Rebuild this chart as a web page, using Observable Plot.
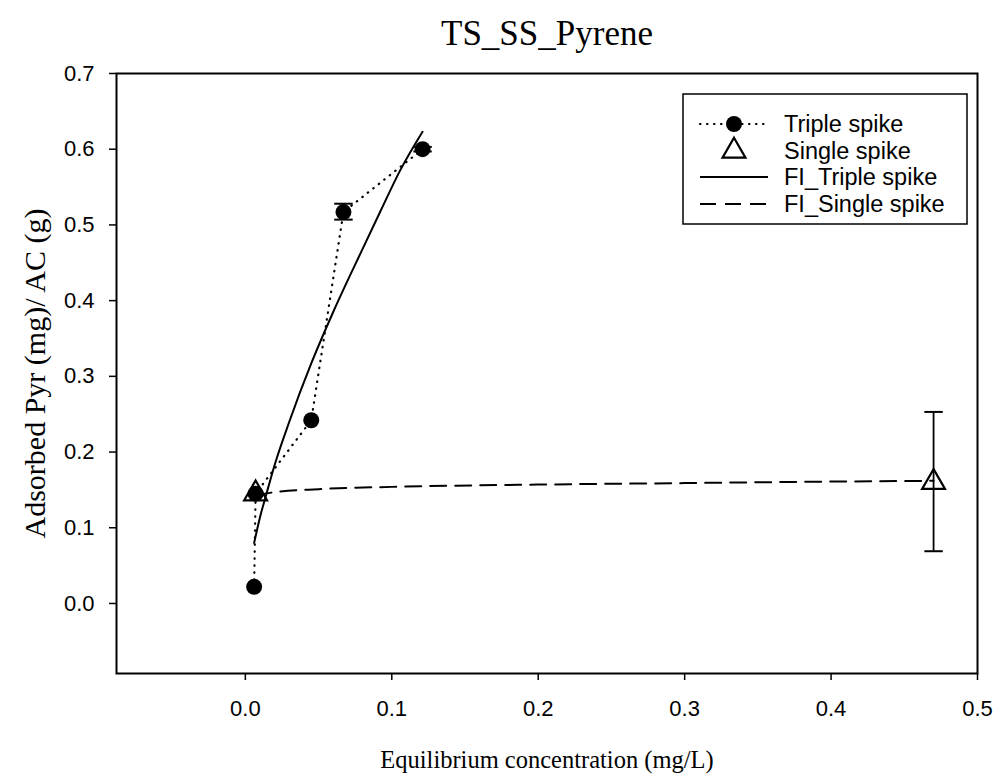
<!DOCTYPE html>
<html>
<head>
<meta charset="utf-8">
<script src="https://cdn.jsdelivr.net/npm/d3@7"></script>
<script src="https://cdn.jsdelivr.net/npm/@observablehq/plot@0.6"></script>
<style>
  html, body { margin: 0; padding: 0; background: white; }
  #chart { width: 995px; height: 776px; }
</style>
</head>
<body>
<div id="chart"></div>
<script>
// ---- Data ----
const titleText = "TS_SS_Pyrene";
const xLabel = "Equilibrium concentration (mg/L)";
const yLabel = "Adsorbed Pyr (mg)/ AC (g)";

const xTicks = [0.0, 0.1, 0.2, 0.3, 0.4, 0.5];
const yTicks = [0.0, 0.1, 0.2, 0.3, 0.4, 0.5, 0.6, 0.7];

// Triple spike (filled circles, dotted connecting line)
const tripleC = [0.006, 0.007, 0.045, 0.067, 0.121];
const tripleQ = [0.022, 0.145, 0.242, 0.517, 0.600];
const tripleLo = [0.022, 0.145, 0.242, 0.507, 0.597];
const tripleHi = [0.022, 0.145, 0.242, 0.528, 0.603];

// Single spike (open triangles)
const singleC = [0.007, 0.470];
const singleQ = [0.145, 0.160];
const singleLo = [0.145, 0.069];
const singleHi = [0.145, 0.253];

// Fitted curve, triple spike (solid)
const fitTripleC = [0.006, 0.010, 0.014, 0.020, 0.030, 0.045, 0.060, 0.080, 0.092, 0.106, 0.121];
const fitTripleQ = [0.080, 0.114, 0.142, 0.183, 0.240, 0.317, 0.385, 0.468, 0.517, 0.573, 0.623];

// Fitted curve, single spike (dashed)
const fitSingleC = [0.007, 0.020, 0.050, 0.100, 0.200, 0.300, 0.400, 0.470];
const fitSingleQ = [0.143, 0.147, 0.151, 0.154, 0.157, 0.159, 0.161, 0.162];

const legendLabels = ["Triple spike", "Single spike", "FI_Triple spike", "FI_Single spike"];

// ---- Build tables ----
const triple = tripleC.map((c, i) => ({c, q: tripleQ[i], lo: tripleLo[i], hi: tripleHi[i]}));
const single = singleC.map((c, i) => ({c, q: singleQ[i], lo: singleLo[i], hi: singleHi[i]}));
const fitT = fitTripleC.map((c, i) => ({c, q: fitTripleQ[i]}));
const fitS = fitSingleC.map((c, i) => ({c, q: fitSingleQ[i]}));
const errs = triple.concat(single).filter(d => d.hi > d.lo);

const capSymbol = {
  draw(ctx, size) {
    const w = Math.sqrt(size);
    ctx.moveTo(-w, 0);
    ctx.lineTo(w, 0);
  }
};

const sans = "'Liberation Sans', Arial, Helvetica, sans-serif";
const serif = "'Liberation Serif', 'Times New Roman', serif";

const chart = Plot.plot({
  width: 995,
  height: 776,
  marginLeft: 116,
  marginRight: 18,
  marginTop: 73,
  marginBottom: 103,
  style: {fontFamily: sans, fontSize: "22px", color: "black", background: "white"},
  x: {domain: [-0.088, 0.5]},
  y: {domain: [-0.0925, 0.7]},
  marks: [
    Plot.axisX({ticks: xTicks, tickFormat: d3.format(".1f"), tickSize: 7, tickPadding: 20, label: null, strokeWidth: 1.5, fontSize: 22}),
    Plot.axisY({ticks: yTicks, tickFormat: d3.format(".1f"), tickSize: 7, tickPadding: 15, label: null, strokeWidth: 1.5, fontSize: 22}),
    Plot.frame({stroke: "black", strokeWidth: 2}),
    Plot.line(fitT, {x: "c", y: "q", stroke: "black", strokeWidth: 2, curve: "monotone-x"}),
    Plot.line(fitS, {x: "c", y: "q", stroke: "black", strokeWidth: 2, strokeDasharray: "16,9", curve: "monotone-x"}),
    Plot.line(triple, {x: "c", y: "q", stroke: "black", strokeWidth: 2.2, strokeDasharray: "0.5,6.5", strokeLinecap: "round"}),
    Plot.ruleX(errs, {x: "c", y1: "lo", y2: "hi", stroke: "black", strokeWidth: 1.8}),
    Plot.dot(errs, {x: "c", y: "hi", symbol: capSymbol, r: 5.2, stroke: "black", strokeWidth: 2}),
    Plot.dot(errs, {x: "c", y: "lo", symbol: capSymbol, r: 5.2, stroke: "black", strokeWidth: 2}),
    Plot.dot(triple, {x: "c", y: "q", r: 8, fill: "black", stroke: "none"}),
    Plot.dot(single, {x: "c", y: "q", symbol: "triangle", r: 8.5, stroke: "black", strokeWidth: 2.2, fill: "none"}),
    Plot.text([titleText], {frameAnchor: "top", dy: -40, lineAnchor: "middle", fontFamily: serif, fontSize: 35, fill: "black"}),
    Plot.text([xLabel], {frameAnchor: "bottom", dy: 87, lineAnchor: "middle", fontFamily: serif, fontSize: 24.5, fill: "black"}),
    Plot.text([yLabel], {frameAnchor: "left", dx: -81, rotate: -90, textAnchor: "middle", lineAnchor: "middle", fontFamily: serif, fontSize: 30, fill: "black"})
  ]
});

// ---- Legend (inside plot frame, top right) ----
const svg = d3.select(chart);
const lg = svg.append("g").attr("font-family", sans).attr("font-size", 23.5).attr("text-anchor", "start");
const bx = 683, by = 94, bw = 284, bh = 130;
lg.append("rect").attr("x", bx).attr("y", by).attr("width", bw).attr("height", bh)
  .attr("fill", "white").attr("stroke", "black").attr("stroke-width", 1.5);
const rowY = [124, 151, 177, 204];
const x1 = 700, x2 = 768, xm = 734, tx = 784;
// row 1: dotted line + filled circle
lg.append("line").attr("x1", x1).attr("x2", x2).attr("y1", rowY[0]).attr("y2", rowY[0])
  .attr("stroke", "black").attr("stroke-width", 2.2).attr("stroke-dasharray", "0.5,6.5").attr("stroke-linecap", "round");
lg.append("circle").attr("cx", xm).attr("cy", rowY[0]).attr("r", 8).attr("fill", "black");
// row 2: open triangle
lg.append("path").attr("transform", `translate(${xm},${rowY[1]})`)
  .attr("d", d3.symbol(d3.symbolTriangle, 8.5 * 8.5 * Math.PI)())
  .attr("fill", "none").attr("stroke", "black").attr("stroke-width", 2.2);
// row 3: solid
lg.append("line").attr("x1", x1).attr("x2", x2).attr("y1", rowY[2]).attr("y2", rowY[2])
  .attr("stroke", "black").attr("stroke-width", 2);
// row 4: dashed
lg.append("line").attr("x1", x1).attr("x2", x2).attr("y1", rowY[3]).attr("y2", rowY[3])
  .attr("stroke", "black").attr("stroke-width", 2).attr("stroke-dasharray", "16,9");
legendLabels.forEach((t, i) => {
  lg.append("text").attr("x", tx).attr("y", rowY[i]).attr("dy", "0.35em")
    .attr("text-anchor", "start").attr("fill", "black").text(t);
});

document.getElementById("chart").appendChild(chart);
</script>
</body>
</html>
